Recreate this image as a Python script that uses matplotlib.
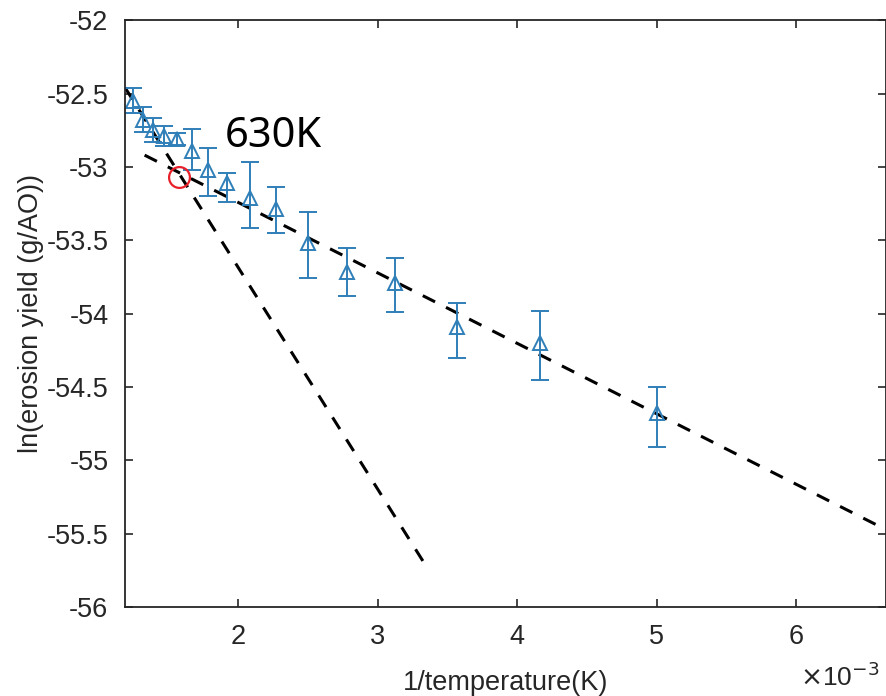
import matplotlib.pyplot as plt

# 1/T in units of 1e-3 1/K (T = 800 ... 200 K)
inv_temp = [1.250, 1.316, 1.389, 1.471, 1.563, 1.667, 1.786, 1.923,
            2.083, 2.273, 2.500, 2.778, 3.125, 3.571, 4.167, 5.000]
ln_yield = [-52.55, -52.68, -52.75, -52.79, -52.81, -52.89, -53.02, -53.11,
            -53.21, -53.29, -53.52, -53.72, -53.79, -54.09, -54.20, -54.68]
err_up = [0.09, 0.09, 0.08, 0.07, 0.04, 0.15, 0.15, 0.07,
          0.24, 0.15, 0.21, 0.17, 0.17, 0.16, 0.22, 0.18]
err_down = [0.08, 0.08, 0.08, 0.07, 0.04, 0.13, 0.18, 0.13,
            0.21, 0.16, 0.24, 0.16, 0.20, 0.21, 0.25, 0.23]

# fitted lines
fit_hi_x = [1.19, 3.34]
fit_hi_y = [-52.46, -55.71]
fit_lo_x = [1.33, 6.70]
fit_lo_y = [-52.92, -55.50]

# transition point
trans_x = [1.575]
trans_y = [-53.07]

blue = '#2f7fb8'
grey = '#262626'

plt.rcParams['font.family'] = ['Liberation Sans', 'DejaVu Sans']

fig = plt.figure(figsize=(8.87, 6.96), dpi=100)
ax = fig.add_axes([0.141, 0.128, 0.858, 0.843])

ax.plot(fit_hi_x, fit_hi_y, color='black', lw=2.2, linestyle=(0, (4.5, 4)))
ax.plot(fit_lo_x, fit_lo_y, color='black', lw=2.2, linestyle=(0, (4.5, 4)))

ax.errorbar(inv_temp, ln_yield, yerr=[err_down, err_up], fmt='^', color=blue,
            markerfacecolor='none', markeredgecolor=blue, markersize=10.5,
            markeredgewidth=1.4, elinewidth=1.4, capsize=6.5, capthick=1.4)

ax.plot(trans_x, trans_y, 'o', markersize=15, markerfacecolor='none',
        markeredgecolor='#e8202a', markeredgewidth=1.6)

ax.text(1.905, -52.79, '630K', fontsize=30, family=['Noto Sans', 'DejaVu Sans'],
        va='center', ha='left', color='black')

ax.set_xlim(1.19, 6.645)
ax.set_ylim(-56, -52)
ax.set_xticks([2, 3, 4, 5, 6])
ax.set_yticks([-56, -55.5, -55, -54.5, -54, -53.5, -53, -52.5, -52])
ax.set_yticklabels(['-56', '-55.5', '-55', '-54.5', '-54', '-53.5', '-53', '-52.5', '-52'])

ax.tick_params(direction='in', top=True, right=True, length=6, width=1.2,
               labelsize=19.5, colors=grey, pad=12)
for s in ax.spines.values():
    s.set_color(grey)
    s.set_linewidth(1.3)

ax.set_xlabel('1/temperature(K)', fontsize=19.5, color=grey, labelpad=15)
ax.set_ylabel('ln(erosion yield (g/AO))', fontsize=19.5, color=grey, labelpad=2)

fig.text(0.992, 0.014, r'$\times$10$^{-3}$', fontsize=19, color=grey,
         ha='right', va='baseline')

fig.savefig('out.png', dpi=100)
